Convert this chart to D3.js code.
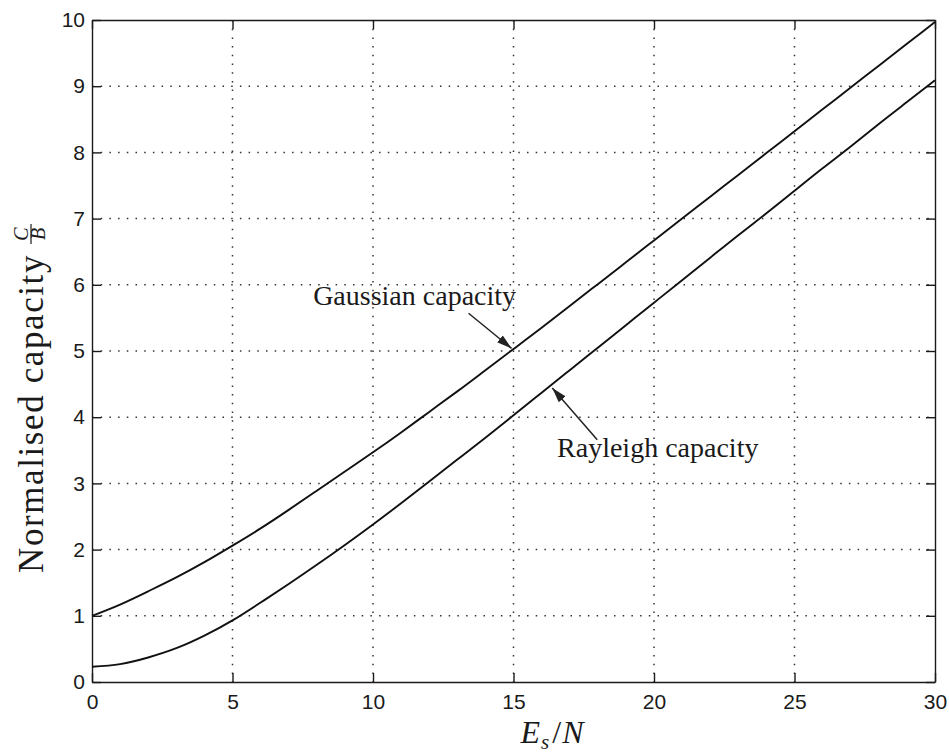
<!DOCTYPE html>
<html>
<head>
<meta charset="utf-8">
<script src="https://cdn.jsdelivr.net/npm/d3@7"></script>
<style>
  body { margin: 0; background: #fff; }
  .axis text { font-family: 'Liberation Sans', Arial, sans-serif; font-size: 21px; fill: #1a1a1a; }
  .axis path, .axis line { stroke: #1a1a1a; stroke-width: 1.4; }
  .serif { font-family: 'Liberation Serif', 'Times New Roman', serif; fill: #1a1a1a; }
  .grid line { stroke: #333; stroke-width: 1.5; stroke-dasharray: 1.5 7.2; }
  .curve { fill: none; stroke: #111; stroke-width: 1.9; }
</style>
</head>
<body>
<svg id="chart"></svg>
<script>
// Es/N in dB
const esN = [0, 1, 2, 3, 4, 5, 6, 7, 8, 9, 10, 11, 12, 13, 14, 15,
  16, 17, 18, 19, 20, 21, 22, 23, 24, 25, 26, 27, 28, 29, 30];
// normalised capacity
const gaussianCapacity = [1.00, 1.17, 1.37, 1.58, 1.81, 2.06, 2.32, 2.60, 2.89, 3.18, 3.47,
  3.77, 4.08, 4.39, 4.71, 5.03, 5.35, 5.68, 6.01, 6.34, 6.67,
  7.00, 7.33, 7.66, 7.99, 8.32, 8.65, 8.98, 9.31, 9.64, 9.97];
const rayleighCapacity = [0.23, 0.27, 0.37, 0.51, 0.70, 0.93, 1.20, 1.48, 1.77, 2.07, 2.38,
  2.70, 3.03, 3.36, 3.69, 4.03, 4.37, 4.71, 5.05, 5.39, 5.73,
  6.07, 6.41, 6.75, 7.08, 7.42, 7.76, 8.09, 8.43, 8.76, 9.09];
const xTicks = [0, 5, 10, 15, 20, 25, 30];
const yTicks = [0, 1, 2, 3, 4, 5, 6, 7, 8, 9, 10];
const xLabel = 'E_s/N';
const yLabel = 'Normalised capacity';
// annotation: label, text anchor, arrow tail, arrow tip (data units)
const gaussianNote = { text: 'Gaussian capacity', at: [7.87, 5.69], from: [13.4, 5.57], to: [14.93, 5.04] };
const rayleighNote = { text: 'Rayleigh capacity', at: [16.55, 3.40], from: [17.98, 3.66], to: [16.38, 4.44] };

class CapacityPlot {
  constructor(_configure) {
    this.configure = {
      parentElement: _configure.parentElement,
      containerWidth: _configure.containerWidth || 949,
      containerHeight: _configure.containerHeight || 753,
      margin: _configure.margin || { top: 20, right: 14, bottom: 71, left: 92 },
    };
    this.initApp();
  }

  initApp() {
    let app = this;
    app.width = app.configure.containerWidth - app.configure.margin.left - app.configure.margin.right;
    app.height = app.configure.containerHeight - app.configure.margin.top - app.configure.margin.bottom;

    app.xScale = d3.scaleLinear().domain([0, 30]).range([0, app.width]);
    app.yScale = d3.scaleLinear().domain([0, 10]).range([app.height, 0]);

    app.svg = d3.select(app.configure.parentElement)
      .attr('width', app.configure.containerWidth)
      .attr('height', app.configure.containerHeight);
    app.chart = app.svg.append('g')
      .attr('transform', `translate(${app.configure.margin.left},${app.configure.margin.top})`);

    app.svg.append('defs').append('marker')
      .attr('id', 'head')
      .attr('markerUnits', 'userSpaceOnUse')
      .attr('viewBox', '0 -5 15 10')
      .attr('refX', 15).attr('refY', 0)
      .attr('markerWidth', 15).attr('markerHeight', 10)
      .attr('orient', 'auto')
      .append('path').attr('d', 'M0,-4.5L15,0L0,4.5Z').attr('fill', '#222');
  }

  renderApp() {
    let app = this;
    const x = app.xScale, y = app.yScale;

    // dotted grid
    const grid = app.chart.append('g').attr('class', 'grid');
    grid.selectAll('.gx').data(xTicks.slice(1, -1)).join('line')
      .attr('x1', d => x(d)).attr('x2', d => x(d))
      .attr('y1', 0).attr('y2', app.height);
    grid.selectAll('.gy').data(yTicks.slice(1, -1)).join('line')
      .attr('y1', d => y(d)).attr('y2', d => y(d))
      .attr('x1', 0).attr('x2', app.width);

    // box with inward ticks on all four sides
    app.chart.append('g').attr('class', 'axis')
      .attr('transform', `translate(0,${app.height})`)
      .call(d3.axisBottom(x).tickValues(xTicks).tickSizeInner(-9).tickSizeOuter(0).tickPadding(12));
    app.chart.append('g').attr('class', 'axis')
      .call(d3.axisLeft(y).tickValues(yTicks).tickSizeInner(-9).tickSizeOuter(0).tickPadding(7));
    app.chart.append('g').attr('class', 'axis')
      .call(d3.axisTop(x).tickValues(xTicks).tickSizeInner(-9).tickSizeOuter(0).tickFormat(''));
    app.chart.append('g').attr('class', 'axis')
      .attr('transform', `translate(${app.width},0)`)
      .call(d3.axisRight(y).tickValues(yTicks).tickSizeInner(-9).tickSizeOuter(0).tickFormat(''));

    // curves
    const line = d3.line().x(d => x(d[0])).y(d => y(d[1])).curve(d3.curveNatural);
    [gaussianCapacity, rayleighCapacity].forEach(series => {
      app.chart.append('path').attr('class', 'curve')
        .attr('d', line(esN.map((e, i) => [e, series[i]])));
    });

    // annotations
    [gaussianNote, rayleighNote].forEach(n => {
      app.chart.append('line')
        .attr('x1', x(n.from[0])).attr('y1', y(n.from[1]))
        .attr('x2', x(n.to[0])).attr('y2', y(n.to[1]))
        .attr('stroke', '#222').attr('stroke-width', 1.5)
        .attr('marker-end', 'url(#head)');
      app.chart.append('text').attr('class', 'serif')
        .attr('x', x(n.at[0])).attr('y', y(n.at[1]))
        .style('font-size', '28px')
        .text(n.text);
    });

    // x axis label E_s/N
    const parts = xLabel.split(/_|\//);
    const xl = app.chart.append('text').attr('class', 'serif')
      .attr('x', app.width / 2 + 7).attr('y', app.height + 61)
      .style('font-size', '32px');
    xl.append('tspan').style('font-style', 'italic').text(parts[0]);
    xl.append('tspan').style('font-style', 'italic').style('font-size', '21px')
      .attr('dy', 6).attr('dx', 1).text(parts[1]);
    xl.append('tspan').attr('dy', -6).attr('dx', 3).text('/');
    xl.append('tspan').style('font-style', 'italic').attr('dx', 1).text(parts[2]);

    // y axis label with fraction C/B
    const yl = app.svg.append('g').attr('transform', 'translate(43,573) rotate(-90)');
    const yt = yl.append('text').attr('class', 'serif')
      .attr('x', 0).attr('y', 0)
      .style('font-size', '35px')
      .style('letter-spacing', '1.6px')
      .text(yLabel);
    const fx = yt.node().getComputedTextLength() + 20;
    yl.append('text').attr('class', 'serif').attr('x', fx).attr('y', -15)
      .attr('text-anchor', 'middle').style('font-size', '20px').style('font-style', 'italic').text('C');
    yl.append('line').attr('x1', fx - 10).attr('x2', fx + 10).attr('y1', -12).attr('y2', -12)
      .attr('stroke', '#1a1a1a').attr('stroke-width', 1.2);
    yl.append('text').attr('class', 'serif').attr('x', fx).attr('y', 2)
      .attr('text-anchor', 'middle').style('font-size', '20px').style('font-style', 'italic').text('B');
  }
}

const plot = new CapacityPlot({ parentElement: '#chart' });
plot.renderApp();
</script>
</body>
</html>
